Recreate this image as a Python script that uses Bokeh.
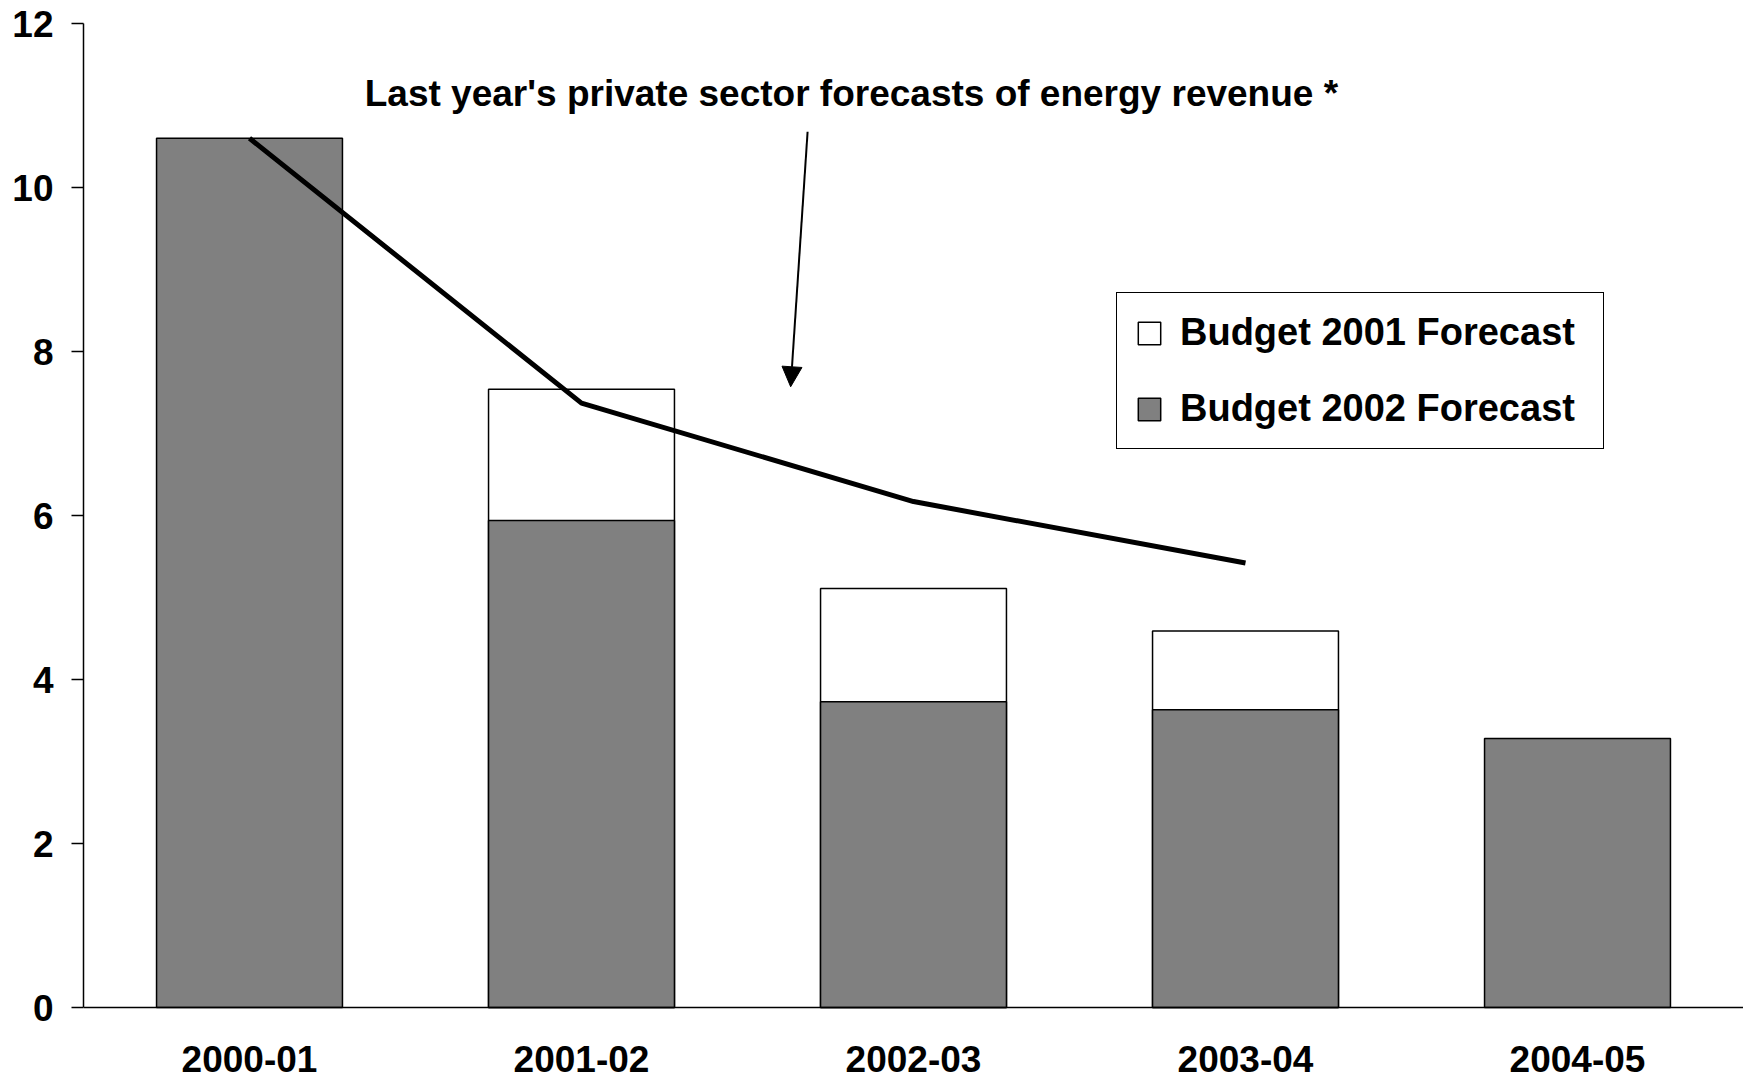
import math
from bokeh.plotting import figure
from bokeh.models import (FixedTicker, Range1d, Legend, LegendItem, Label, LabelSet, Arrow,
                          NormalHead, ColumnDataSource, Span)
from bokeh.core.properties import value
from bokeh.embed import file_html
from bokeh.resources import INLINE

# ---- data ----
categories = ["2000-01", "2001-02", "2002-03", "2003-04", "2004-05"]
budget_2001 = [float("nan"), 7.54, 5.11, 4.59, float("nan")]
budget_2002 = [10.6, 5.94, 3.73, 3.63, 3.28]
private_forecast = [10.6, 7.37, 6.17, 5.42]
y_ticks = [0, 2, 4, 6, 8, 10, 12]
annotation_text = "Last year's private sector forecasts of energy revenue *"
legend_labels = ["Budget 2001 Forecast", "Budget 2002 Forecast"]

FONT = "Liberation Sans"
FS = "37px"

# ---- layout constants (pixels) ----
TOP = 23
PLOT_H = 984          # height of the 0..12 value band
LABEL_BAND = 70       # room under the zero line for category labels
PX_PER_UNIT = PLOT_H / 12.0
Y_MIN = -LABEL_BAND / PX_PER_UNIT

xs = [i + 0.5 for i in range(len(categories))]

p = figure(frame_width=1660, frame_height=PLOT_H + LABEL_BAND,
           x_range=Range1d(0, len(categories)), y_range=Range1d(Y_MIN, 12),
           x_axis_location=None,
           output_backend="svg", toolbar_location=None,
           min_border_left=83, min_border_right=0, min_border_top=TOP, min_border_bottom=0)
p.outline_line_color = None
p.xgrid.visible = False
p.ygrid.visible = False
p.background_fill_color = "white"
p.border_fill_color = "white"

src_w = ColumnDataSource(dict(x=[x for x, v in zip(xs, budget_2001) if not math.isnan(v)],
                              top=[v for v in budget_2001 if not math.isnan(v)]))
src_g = ColumnDataSource(dict(x=xs, top=budget_2002))

r_white = p.vbar(x="x", top="top", bottom=0, width=0.56, source=src_w,
                 fill_color="white", line_color="black", line_width=1.5)
r_gray = p.vbar(x="x", top="top", bottom=0, width=0.56, source=src_g,
                fill_color="#808080", line_color="black", line_width=1.5)

p.line(xs[:len(private_forecast)], private_forecast, line_width=5, line_color="black")

# zero line acting as the category axis
p.add_layout(Span(location=0, dimension="width", line_color="black", line_width=1.5))

# y axis
p.yaxis.ticker = FixedTicker(ticks=y_ticks)
p.yaxis.bounds = (0, 12)
p.yaxis.major_tick_out = 12
p.yaxis.major_tick_in = 0
p.yaxis.minor_tick_out = 0
p.yaxis.minor_tick_in = 0
p.yaxis.major_label_standoff = 18
p.yaxis.axis_line_width = 1.5
p.yaxis.major_tick_line_width = 1.5
p.yaxis.major_label_text_font = FONT
p.yaxis.major_label_text_font_style = "bold"
p.yaxis.major_label_text_font_size = FS
p.yaxis.major_label_text_color = "black"
p.yaxis.axis_line_color = "black"
p.yaxis.major_tick_line_color = "black"

# category labels below the zero line
cat_src = ColumnDataSource(dict(x=xs, y=[0] * len(xs), text=categories))
p.add_layout(LabelSet(x="x", y="y", text="text", source=cat_src, y_offset=-51,
                      text_align="center", text_baseline="middle",
                      text_font=value(FONT), text_font_style="bold",
                      text_font_size=value(FS), text_color="black"))

# annotation text + arrow
p.add_layout(Label(x=2.313, y=11.15, text=annotation_text, text_align="center",
                   text_baseline="middle", text_font=FONT, text_font_style="bold",
                   text_font_size=FS, text_color="black"))
p.add_layout(Arrow(x_start=2.181, y_start=10.68, x_end=2.13, y_end=7.57,
                   line_width=2, line_color="black",
                   end=NormalHead(size=20, fill_color="black", line_color="black")))

legend = Legend(items=[LegendItem(label=legend_labels[0], renderers=[r_white]),
                       LegendItem(label=legend_labels[1], renderers=[r_gray])],
                location=(1033, 558 + LABEL_BAND), orientation="vertical",
                border_line_color="black", border_line_width=1.5, border_line_alpha=1,
                label_text_font=FONT, label_text_font_style="bold",
                label_text_font_size="38px", label_text_color="black",
                glyph_width=28, glyph_height=28, label_standoff=17,
                spacing=33, padding=18, margin=0, label_width=405,
                background_fill_color="white", background_fill_alpha=1)
p.add_layout(legend)

open("out.html", "w").write(file_html(p, INLINE))
